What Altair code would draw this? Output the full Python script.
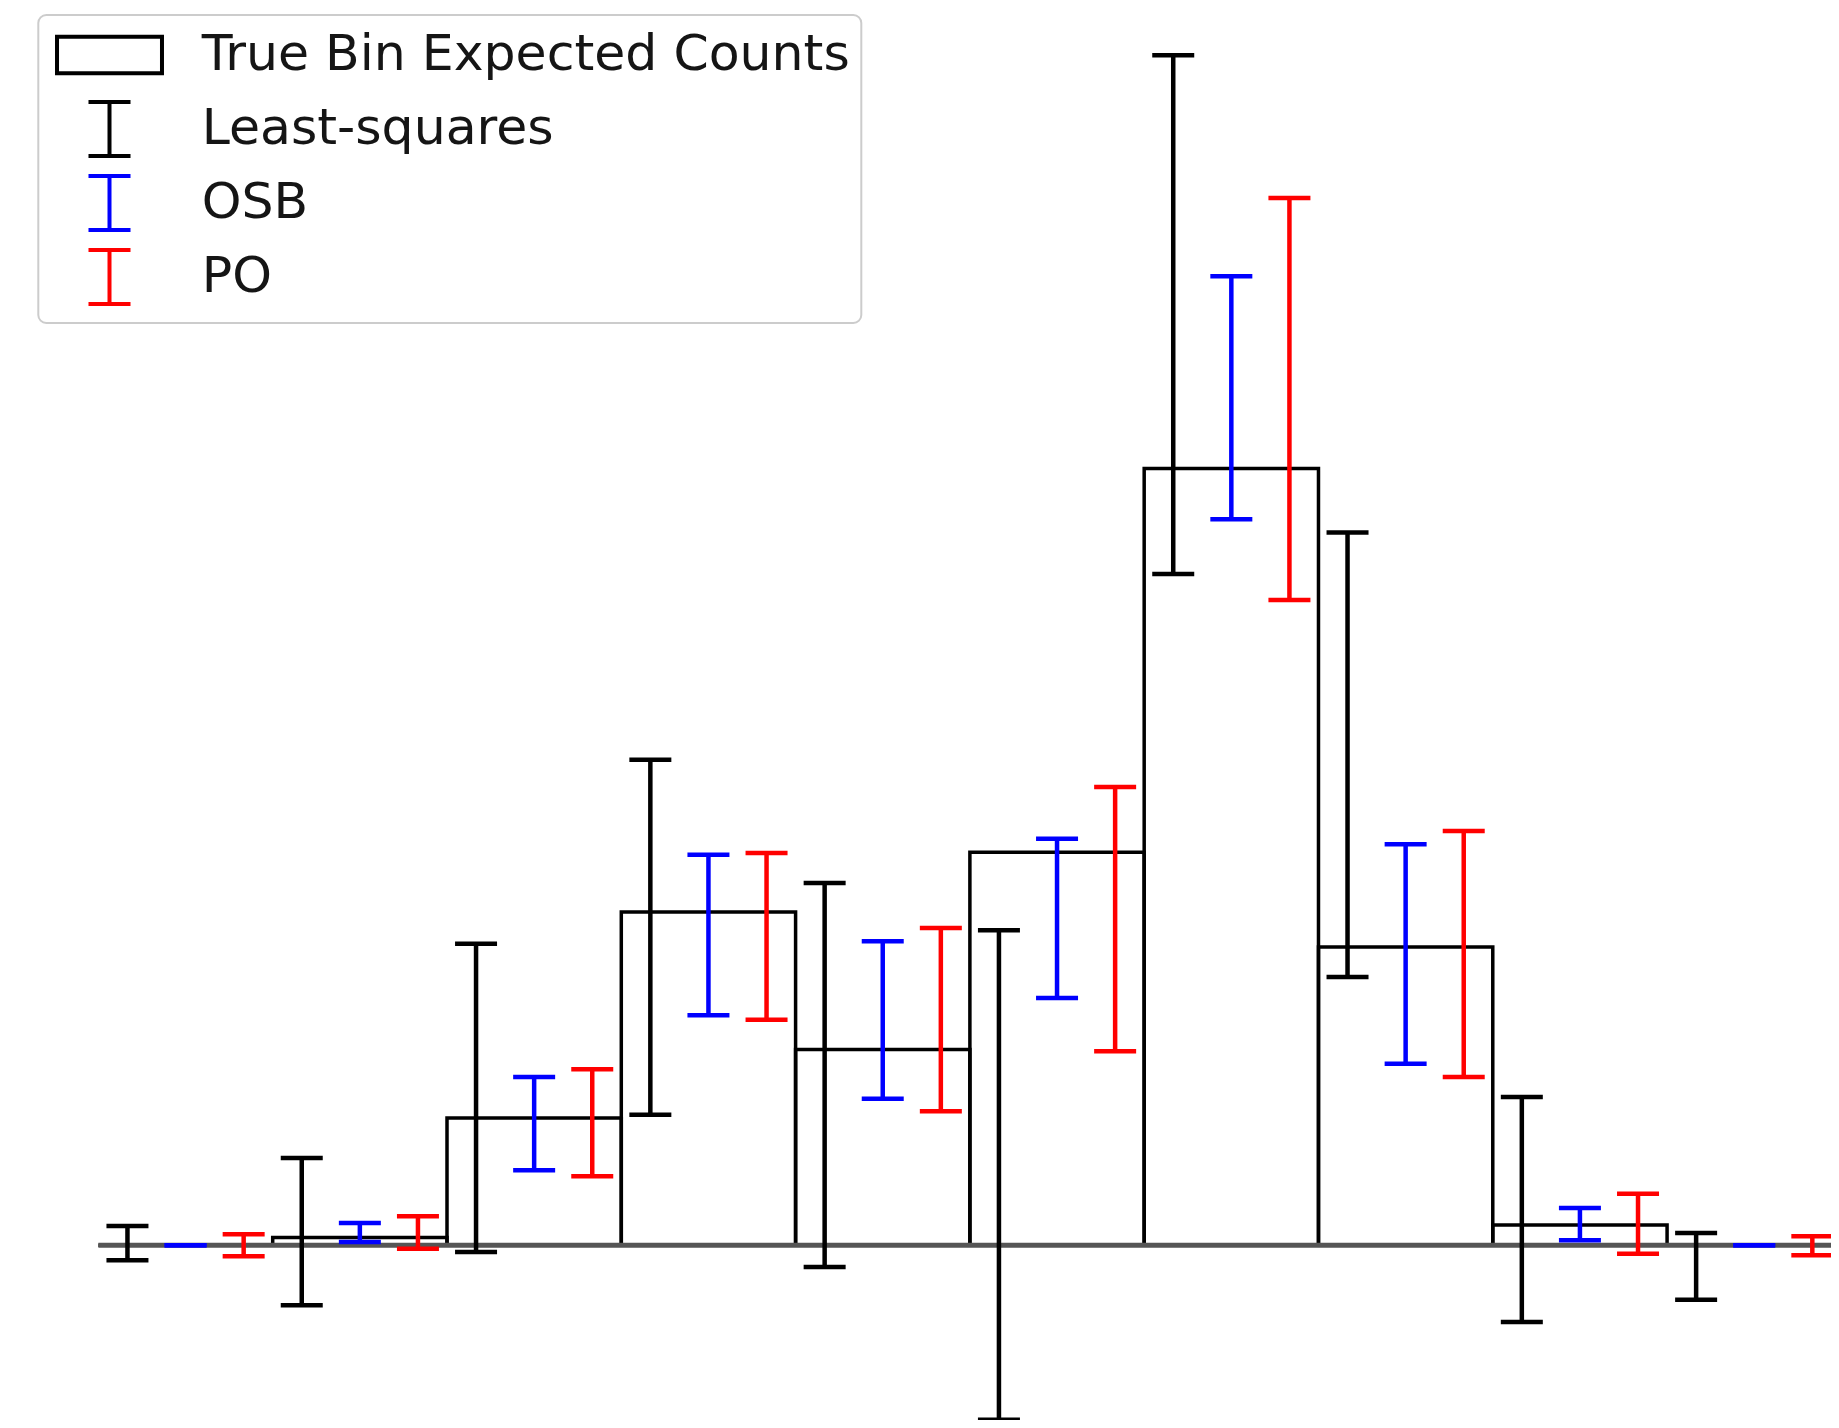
import altair as alt
import pandas as pd

# ---------------- data ----------------
bins = list(range(10))
true_counts = [0.0, 1.0, 16.4, 42.9, 25.2, 50.6, 100.0, 38.4, 2.6, 0.0]

ls_lo = [-1.93, -7.72, -0.86, 16.81, -2.79, -22.45, 86.42, 34.54, -9.87, -7.00]
ls_hi = [2.48, 11.24, 38.83, 62.51, 46.64, 40.55, 153.19, 91.76, 19.09, 1.58]

osb_lo = [0.0, 0.42, 9.66, 29.61, 18.87, 31.84, 93.46, 23.38, 0.64, 0.0]
osb_hi = [0.0, 2.87, 21.67, 50.28, 39.13, 52.34, 124.74, 51.62, 4.80, 0.0]

po_lo = [-1.42, -0.44, 8.88, 29.04, 17.25, 24.97, 83.07, 21.67, -1.08, -1.29]
po_hi = [1.42, 3.73, 22.66, 50.50, 40.85, 59.00, 134.82, 53.33, 6.64, 1.16]

methods = ["Least-squares", "OSB", "PO"]
method_colors = ["black", "blue", "red"]
legend_entries = ["True Bin Expected Counts"] + methods

# ---------------- layout / style ----------------
W, H = 1823, 1412
x_dom = [-0.5187, 9.9405]
y_dom = [-22.49, 159.28]
slot = {"Least-squares": 1 / 6, "OSB": 0.5, "PO": 5 / 6}

bars_df = pd.DataFrame({"left": bins, "right": [b + 1 for b in bins], "count": true_counts})
base_df = pd.DataFrame({"x0": [min(bins)], "x1": [max(bins) + 1], "y": [0.0]})

rows = []
for m, lo, hi in zip(methods, [ls_lo, osb_lo, po_lo], [ls_hi, osb_hi, po_hi]):
    for b, l, h in zip(bins, lo, hi):
        rows.append({"method": m, "pos": b + slot[m], "lo": l, "hi": h})
err_df = pd.DataFrame(rows)

leg_df = pd.DataFrame({"entry": legend_entries, "pos": [0.5] * 4, "v": [0.0] * 4})

xs = alt.Scale(domain=x_dom, nice=False, zero=False)
ys = alt.Scale(domain=y_dom, nice=False, zero=False)
cs = alt.Scale(domain=methods, range=method_colors)

bars = alt.Chart(bars_df).mark_rect(fillOpacity=0, stroke="black", strokeWidth=3.5).encode(
    x=alt.X("left:Q", scale=xs, axis=None),
    x2="right:Q",
    y=alt.Y("count:Q", scale=ys, axis=None),
    y2=alt.datum(0),
)

baseline = alt.Chart(base_df).mark_rule(color="#555555", strokeWidth=5).encode(
    x=alt.X("x0:Q", scale=xs, axis=None),
    x2="x1:Q",
    y=alt.Y("y:Q", scale=ys, axis=None),
)

col = alt.Color("method:N", scale=cs, legend=None)
LW = 4.5

stems = alt.Chart(err_df).mark_rule(strokeWidth=LW).encode(
    x=alt.X("pos:Q", scale=xs, axis=None),
    y=alt.Y("lo:Q", scale=ys, axis=None),
    y2="hi:Q",
    color=col,
)
caps_lo = alt.Chart(err_df).mark_rule(strokeWidth=LW, xOffset=-21, x2Offset=21).encode(
    x=alt.X("pos:Q", scale=xs, axis=None),
    x2="pos:Q",
    y=alt.Y("lo:Q", scale=ys, axis=None),
    color=col,
)
caps_hi = alt.Chart(err_df).mark_rule(strokeWidth=LW, xOffset=-21, x2Offset=21).encode(
    x=alt.X("pos:Q", scale=xs, axis=None),
    x2="pos:Q",
    y=alt.Y("hi:Q", scale=ys, axis=None),
    color=col,
)

# legend glyphs (unit = 27 px); the rect carries invisible extent points so all rows match
rect_path = "M-1.944,-0.678H1.944V0.678H-1.944Z M0,-1L0,-1 M0,1L0,1"
bar_path = "M-0.778,-1H0.778M0,-1V1M-0.778,1H0.778"

leg_common = dict(
    orient="none", legendX=30.3, legendY=7, title=None,
    labelFont="DejaVu Sans", labelFontSize=50.5, labelColor="#151515", labelLimit=1500,
    labelOffset=63.2, symbolOffset=31.2, symbolSize=2916, symbolStrokeWidth=4,
    symbolOpacity=1, padding=11, rowPadding=4, strokeColor="#cccccc", fillColor="white",
    cornerRadius=8,
)

legend_layer = alt.Chart(leg_df).mark_point(filled=False, opacity=0, strokeWidth=4).encode(
    x=alt.X("pos:Q", scale=xs, axis=None),
    y=alt.Y("v:Q", scale=ys, axis=None),
    stroke=alt.Stroke("entry:N", scale=alt.Scale(domain=legend_entries,
                                                 range=["black", "black", "blue", "red"]),
                      legend=alt.Legend(**leg_common)),
    shape=alt.Shape("entry:N", scale=alt.Scale(domain=legend_entries,
                                               range=[rect_path, bar_path, bar_path, bar_path]),
                    legend=alt.Legend(**leg_common)),
)

chart = alt.layer(bars, baseline, stems, caps_lo, caps_hi, legend_layer).properties(
    width=W, height=H, padding=0,
    autosize=alt.AutoSizeParams(type="none"),
    background="white",
).configure_view(stroke=None).configure_legend(strokeWidth=2)

chart.save("out.html", embed_options={"renderer": "svg", "actions": False})
